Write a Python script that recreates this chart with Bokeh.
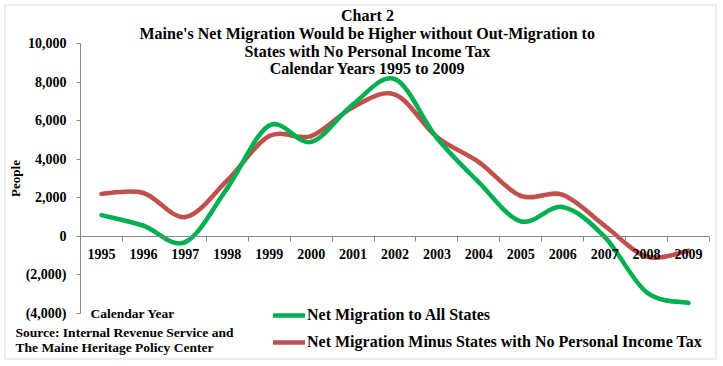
from bokeh.plotting import figure
from bokeh.models import (Range1d, FixedTicker, Label, Legend, LegendItem,
                          BoxAnnotation)
from bokeh.embed import file_html
from bokeh.resources import INLINE
import numpy as np

# ---------------- data ----------------
years = ["1995", "1996", "1997", "1998", "1999", "2000", "2001", "2002",
         "2003", "2004", "2005", "2006", "2007", "2008", "2009"]
all_states = [1100, 550, -300, 2500, 5750, 4900, 6850, 8150,
              5100, 2800, 780, 1520, -30, -2900, -3450]
minus_no_tax = [2200, 2250, 1000, 2900, 5200, 5200, 6700, 7350,
                5150, 3850, 2100, 2150, 550, -1050, -750]
y_ticks = [-4000, -2000, 0, 2000, 4000, 6000, 8000, 10000]
y_labels = ["(4,000)", "(2,000)", "0", "2,000", "4,000", "6,000", "8,000", "10,000"]

title_lines = ["Chart 2",
               "Maine's Net Migration Would be Higher without Out-Migration to",
               "States with No Personal Income Tax",
               "Calendar Years 1995 to 2009"]
series_names = ["Net Migration to All States",
                "Net Migration Minus States with No Personal Income Tax"]
source_lines = ["Source: Internal Revenue Service and",
                "The Maine Heritage Policy Center"]

GREEN = "#00B050"
RED = "#C0504D"
AXIS = "#868686"
FONT = "Liberation Serif"

# ---------------- geometry (pixels) ----------------
W, H = 723, 366
PL, PR, PT, PB = 80, 709, 43, 313     # plot area in canvas pixels
ymin, ymax = y_ticks[0], y_ticks[-1]
n = len(years)
xpp = n / (PR - PL)                   # data units per pixel (x)
ypp = (ymax - ymin) / (PB - PT)       # data units per pixel (y)

p = figure(width=W, height=H, output_backend="svg", toolbar_location=None,
           x_range=Range1d(-PL * xpp, n + (W - PR) * xpp),
           y_range=Range1d(ymin - (H - PB) * ypp, ymax + PT * ypp),
           min_border=0)
p.outline_line_color = None
p.xgrid.visible = False
p.ygrid.visible = False
p.background_fill_color = "white"
p.border_fill_color = "white"

# ---------------- smoothed series (Excel-like bezier) ----------------
xc = [i + 0.5 for i in range(n)]


def bezier_segments(xs, ys):
    m = len(xs)
    out = dict(x0=[], y0=[], x1=[], y1=[], cx0=[], cy0=[], cx1=[], cy1=[])
    for i in range(m - 1):
        im = max(i - 1, 0)
        ip2 = min(i + 2, m - 1)
        out["x0"].append(xs[i]); out["y0"].append(ys[i])
        out["x1"].append(xs[i + 1]); out["y1"].append(ys[i + 1])
        out["cx0"].append(xs[i] + (xs[i + 1] - xs[im]) / 6.0)
        out["cy0"].append(ys[i] + (ys[i + 1] - ys[im]) / 6.0)
        out["cx1"].append(xs[i + 1] - (xs[ip2] - xs[i]) / 6.0)
        out["cy1"].append(ys[i + 1] - (ys[ip2] - ys[i]) / 6.0)
    return out


rr = p.bezier(source=bezier_segments(xc, minus_no_tax), x0="x0", y0="y0", x1="x1", y1="y1",
              cx0="cx0", cy0="cy0", cx1="cx1", cy1="cy1",
              line_color=RED, line_width=4.5, line_cap="round")
rg = p.bezier(source=bezier_segments(xc, all_states), x0="x0", y0="y0", x1="x1", y1="y1",
              cx0="cx0", cy0="cy0", cx1="cx1", cy1="cy1",
              line_color=GREEN, line_width=4.5, line_cap="round")

# ---------------- axes ----------------
xa = p.xaxis[0]
xa.fixed_location = 0
xa.bounds = (0, n)
xa.ticker = FixedTicker(ticks=xc, minor_ticks=list(range(1, n + 1)))
xa.major_label_overrides = {x: y for x, y in zip(xc, years)}
xa.major_tick_out = 0
xa.major_tick_in = 0
xa.minor_tick_out = 5
xa.minor_tick_in = 0
xa.minor_tick_line_color = AXIS
xa.axis_line_color = AXIS
xa.major_label_standoff = 8
xa.major_label_text_font = FONT
xa.major_label_text_font_style = "bold"
xa.major_label_text_font_size = "14px"
xa.major_label_text_color = "black"

ya = p.yaxis[0]
ya.fixed_location = 0
ya.bounds = (ymin, ymax)
ya.ticker = FixedTicker(ticks=y_ticks)
ya.major_label_overrides = {t: l for t, l in zip(y_ticks, y_labels)}
ya.major_tick_out = 4
ya.major_tick_in = 0
ya.minor_tick_out = 0
ya.minor_tick_in = 0
ya.major_tick_line_color = AXIS
ya.axis_line_color = AXIS
ya.major_label_standoff = 10
ya.major_label_text_font = FONT
ya.major_label_text_font_style = "bold"
ya.major_label_text_font_size = "14px"
ya.major_label_text_color = "black"
ya.axis_label = "People"
ya.axis_label_standoff = 0
ya.axis_label_text_font = FONT
ya.axis_label_text_font_style = "bold"
ya.axis_label_text_font_size = "13px"
ya.axis_label_text_color = "black"


# ---------------- texts (screen units: from canvas bottom-left) ----------------
def add_label(text, px, py, size, align="left"):
    p.add_layout(Label(x=px, y=H - py, x_units="screen", y_units="screen",
                       text=text, text_font=FONT, text_font_style="bold",
                       text_font_size=size, text_align=align,
                       text_baseline="middle", text_color="black"))


for line, py in zip(title_lines, [15, 33, 51, 68]):
    add_label(line, 367, py, "16px", align="center")

add_label("Calendar Year", 90, 313, "13.5px")
add_label(source_lines[0], 15, 332, "13.5px")
add_label(source_lines[1], 15, 347, "13.5px")

# ---------------- legend ----------------
legend = Legend(items=[LegendItem(label=series_names[0], renderers=[rg]),
                       LegendItem(label=series_names[1], renderers=[rr])],
                location=(273, H - 352), orientation="vertical",
                glyph_width=32, glyph_height=20, label_height=20, spacing=7,
                padding=0, margin=0, label_standoff=2,
                border_line_alpha=0, background_fill_alpha=0,
                label_text_font=FONT, label_text_font_style="bold",
                label_text_font_size="16px", label_text_color="black")
p.add_layout(legend, "center")

# ---------------- chart border ----------------
p.add_layout(BoxAnnotation(left=4.5, right=715.5, bottom=H - 358.5, top=H - 4.5,
                           left_units="screen", right_units="screen",
                           top_units="screen", bottom_units="screen",
                           fill_alpha=0, line_color=AXIS, line_width=1))

open("out.html", "w").write(file_html(p, INLINE))
